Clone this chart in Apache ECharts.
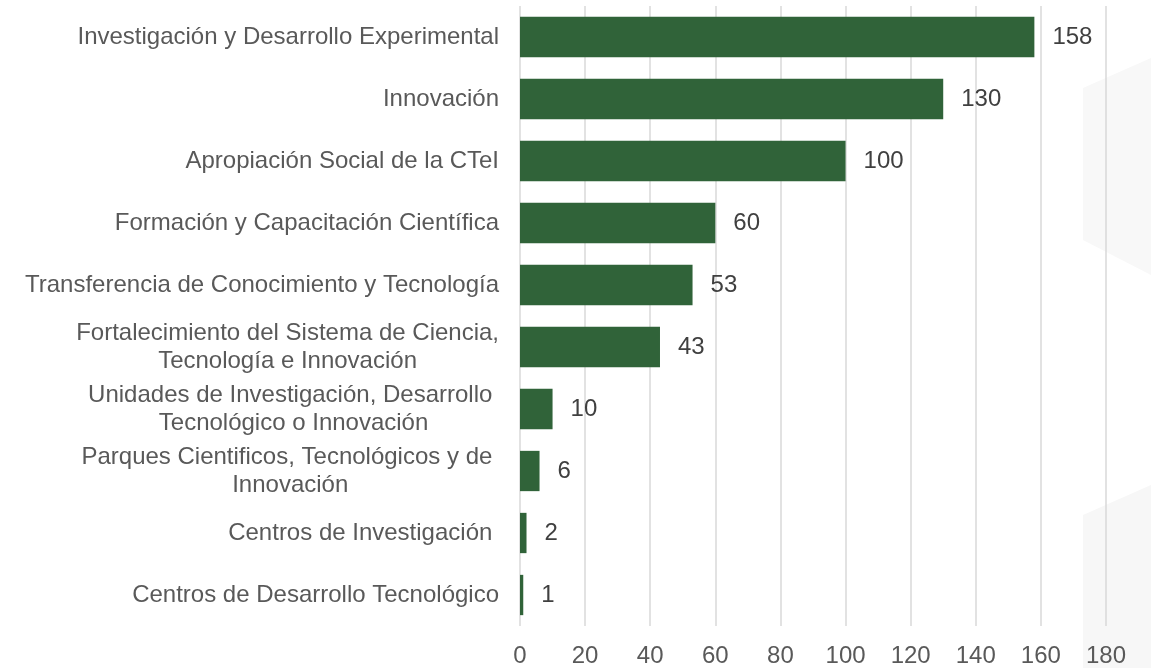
<!DOCTYPE html>
<html>
<head>
<meta charset="utf-8">
<script src="https://cdn.jsdelivr.net/npm/echarts@6/dist/echarts.min.js"></script>
<style>
html,body{margin:0;padding:0;background:#fff;}
#chart{width:1151px;height:668px;}
</style>
</head>
<body>
<div id="chart"></div>
<script>
const categories = [
  "Investigación y Desarrollo Experimental",
  "Innovación",
  "Apropiación Social de la CTeI",
  "Formación y Capacitación Científica",
  "Transferencia de Conocimiento y Tecnología",
  "Fortalecimiento del Sistema de Ciencia,\nTecnología e Innovación",
  "Unidades de Investigación, Desarrollo \nTecnológico o Innovación",
  "Parques Cientificos, Tecnológicos y de \nInnovación",
  "Centros de Investigación ",
  "Centros de Desarrollo Tecnológico"
];
const values = [158, 130, 100, 60, 53, 43, 10, 6, 2, 1];
const xTicks = [0, 20, 40, 60, 80, 100, 120, 140, 160, 180];

const FONT = '"Liberation Sans", Arial, sans-serif';
const chart = echarts.init(document.getElementById('chart'));
chart.setOption({
  backgroundColor: '#ffffff',
  animation: false,
  graphic: [
    { type: 'polygon', z: -10, silent: true,
      shape: { points: [[1083, 88], [1151, 58], [1151, 275], [1083, 240]] },
      style: { fill: '#f8f8f8' } },
    { type: 'polygon', z: -10, silent: true,
      shape: { points: [[1083, 515], [1151, 485], [1151, 668], [1083, 668]] },
      style: { fill: '#f7f7f7' } }
  ],
  grid: { left: 520, right: 45, top: 6, bottom: 41, containLabel: false },
  xAxis: {
    type: 'value',
    min: xTicks[0],
    max: xTicks[xTicks.length - 1],
    interval: xTicks[1] - xTicks[0],
    axisLine: { show: false },
    axisTick: { show: false },
    splitLine: { show: true, showMinLine: true, lineStyle: { color: '#d9d9d9', width: 1.5 } },
    axisLabel: { color: '#595959', fontSize: 24, fontFamily: FONT, margin: 18 }
  },
  yAxis: {
    type: 'category',
    inverse: true,
    data: categories,
    axisLine: { show: false },
    axisTick: { show: false },
    axisLabel: {
      margin: 21,
      color: '#595959',
      fontSize: 24,
      fontFamily: FONT,
      lineHeight: 28,
      formatter: function (v) {
        return v.split('\n').map(function (s) { return '{c|' + s + '}'; }).join('\n');
      },
      rich: {
        c: { align: 'center', color: '#595959', fontSize: 24, fontFamily: FONT, lineHeight: 28 }
      }
    }
  },
  series: [{
    type: 'bar',
    data: values,
    barCategoryGap: '35%',
    itemStyle: { color: '#306339' },
    label: {
      show: true,
      position: 'right',
      distance: 18,
      color: '#404040',
      fontSize: 24,
      fontFamily: FONT
    }
  }]
});
</script>
</body>
</html>
